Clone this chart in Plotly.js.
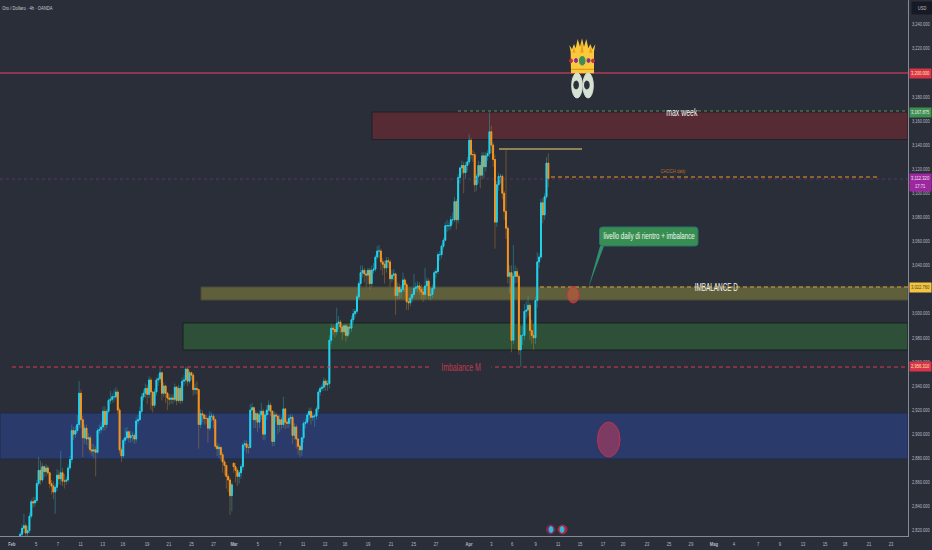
<!DOCTYPE html>
<html><head><meta charset="utf-8">
<script src="https://cdn.plot.ly/plotly-3.0.1.min.js"></script>
<style>html,body{margin:0;padding:0;background:#2a2e39}</style></head>
<body><div id="chart" style="width:932px;height:550px"></div>
<script>
const closes=[2817,2822,2824,2818,2820,2832,2844,2843,2845,2859,
2870,2862,2873,2869,2872,2868,2859,2857,2852,2856,
2866,2863,2868,2861,2861,2862,2872,2879,2903,2900,
2903,2908,2934,2912,2897,2905,2896,2897,2887,2886,
2887,2885,2903,2904,2906,2919,2908,2919,2928,2929,
2931,2931,2935,2920,2887,2882,2895,2897,2902,2897,
2899,2899,2896,2911,2912,2919,2931,2934,2938,2933,
2945,2935,2924,2935,2945,2946,2951,2934,2940,2934,
2930,2929,2930,2929,2939,2928,2938,2928,2944,2945,
2954,2944,2951,2949,2937,2938,2937,2908,2917,2916,
2913,2913,2905,2915,2915,2912,2890,2888,2889,2883,
2877,2874,2865,2862,2849,2858,2873,2870,2865,2868,
2873,2891,2892,2889,2889,2920,2922,2912,2917,2910,
2916,2919,2900,2916,2920,2924,2919,2894,2916,2915,
2908,2912,2908,2921,2910,2909,2913,2914,2899,2906,
2896,2890,2887,2897,2909,2910,2916,2919,2914,2915,
2915,2921,2935,2938,2939,2944,2941,2942,2978,2988,
2987,2985,2992,2993,2989,2985,2990,2982,2989,2988,
2995,3000,3002,3014,3025,3034,3036,3033,3032,3036,
3025,3036,3037,3047,3052,3052,3043,3041,3038,3044,
3043,3029,3032,3033,3015,3022,3018,3020,3028,3024,
3010,3009,3013,3016,3021,3022,3023,3020,3018,3016,
3023,3027,3015,3016,3021,3034,3035,3049,3049,3056,
3061,3073,3073,3073,3078,3078,3093,3078,3113,3121,
3123,3117,3123,3126,3144,3132,3132,3107,3114,3123,
3115,3131,3122,3131,3133,3151,3140,3128,3076,3107,
3114,3114,3100,3085,3071,3031,3034,2978,3031,3035,
3031,2970,2982,2982,3002,3003,3007,2986,2982,2980,
3011,3043,3047,3092,3082,3097,3125,3112];
const opens=[2812,2817,2822,2824,2818,2820,2832,2844,2843,2845,
2859,2870,2862,2873,2869,2872,2868,2859,2857,2852,
2856,2866,2863,2868,2861,2861,2862,2872,2879,2903,
2900,2903,2908,2934,2912,2897,2905,2896,2897,2887,
2886,2887,2885,2903,2904,2906,2919,2908,2919,2928,
2929,2931,2931,2935,2920,2887,2882,2895,2897,2902,
2897,2899,2899,2896,2911,2912,2919,2931,2934,2938,
2933,2945,2935,2924,2935,2945,2946,2951,2934,2940,
2934,2930,2929,2930,2929,2939,2928,2938,2928,2944,
2945,2954,2944,2951,2949,2937,2938,2937,2908,2917,
2916,2913,2913,2905,2915,2915,2912,2890,2888,2889,
2883,2877,2874,2865,2862,2849,2876,2873,2870,2865,
2868,2873,2891,2892,2889,2889,2920,2922,2912,2917,
2910,2916,2919,2900,2916,2920,2924,2919,2894,2916,
2915,2908,2912,2908,2921,2910,2909,2913,2914,2899,
2906,2896,2890,2887,2897,2909,2910,2916,2919,2914,
2915,2915,2921,2935,2938,2939,2944,2941,2942,2978,
2988,2987,2985,2992,2993,2989,2985,2990,2982,2989,
2988,2995,3000,3002,3014,3025,3034,3036,3033,3032,
3036,3025,3036,3037,3047,3052,3052,3043,3041,3038,
3044,3043,3029,3032,3033,3015,3022,3018,3020,3028,
3024,3010,3009,3013,3016,3021,3022,3023,3020,3018,
3016,3023,3027,3015,3016,3021,3034,3035,3049,3049,
3056,3061,3073,3073,3073,3078,3078,3093,3078,3113,
3121,3123,3117,3123,3126,3144,3132,3132,3107,3114,
3123,3115,3131,3122,3131,3133,3151,3140,3128,3076,
3107,3114,3114,3100,3085,3071,3031,3034,2978,3031,
3035,3031,2970,2982,2982,3002,3003,3007,2986,2982,
2980,3011,3043,3047,3092,3082,3097,3125];
const highs=[2819,2825,2834,2826,2824,2835,2846,2848,2848,2862,
2881,2878,2876,2874,2875,2874,2866,2862,2861,2859,
2871,2870,2886,2872,2867,2865,2875,2882,2908,2906,
2907,2916,2944,2937,2915,2908,2908,2901,2899,2892,
2892,2890,2905,2908,2910,2923,2923,2921,2930,2936,
2934,2937,2939,2937,2922,2889,2897,2905,2906,2903,
2903,2902,2901,2914,2916,2923,2934,2937,2942,2941,
2948,2947,2936,2938,2947,2950,2955,2952,2943,2941,
2935,2933,2933,2933,2942,2940,2941,2940,2947,2949,
2956,2955,2953,2952,2951,2942,2944,2938,2921,2920,
2917,2916,2914,2919,2918,2917,2913,2893,2892,2890,
2885,2879,2875,2867,2864,2860,2876,2876,2872,2870,
2875,2893,2895,2895,2892,2925,2926,2923,2920,2918,
2920,2926,2921,2919,2924,2928,2926,2920,2919,2918,
2917,2916,2914,2931,2922,2912,2916,2917,2916,2909,
2908,2897,2892,2898,2911,2913,2918,2922,2922,2918,
2917,2923,2937,2940,2942,2947,2946,2945,2982,2992,
2991,2990,3005,2998,2995,2991,2992,2992,2992,2992,
2998,3004,3004,3016,3027,3040,3040,3038,3036,3038,
3038,3040,3042,3049,3056,3057,3054,3046,3044,3047,
3047,3045,3036,3037,3034,3026,3025,3024,3034,3030,
3026,3013,3016,3018,3033,3026,3027,3026,3024,3022,
3038,3030,3029,3022,3024,3036,3038,3051,3052,3058,
3063,3076,3078,3076,3081,3084,3097,3095,3116,3122,
3127,3126,3126,3130,3149,3146,3136,3134,3116,3127,
3126,3134,3134,3134,3136,3167,3156,3142,3132,3110,
3117,3116,3116,3102,3136,3073,3040,3040,3057,3040,
3038,3033,2990,2990,3008,3010,3015,3009,2995,2992,
3014,3051,3050,3095,3096,3100,3130,3133];
const lows=[2812,2815,2818,2815,2815,2818,2830,2839,2840,2843,
2857,2858,2860,2864,2865,2866,2855,2850,2846,2834,
2853,2858,2858,2857,2855,2858,2860,2870,2876,2895,
2897,2901,2905,2905,2881,2892,2891,2888,2884,2882,
2880,2865,2884,2900,2901,2903,2903,2905,2917,2925,
2926,2927,2929,2917,2884,2877,2880,2892,2895,2893,
2893,2894,2892,2893,2908,2911,2917,2928,2930,2925,
2930,2920,2918,2922,2932,2940,2943,2928,2931,2926,
2920,2924,2925,2925,2927,2924,2926,2925,2926,2940,
2942,2940,2942,2945,2932,2933,2933,2888,2905,2910,
2908,2908,2893,2903,2910,2905,2888,2882,2880,2878,
2868,2866,2855,2852,2833,2836,2868,2860,2857,2859,
2863,2870,2886,2884,2884,2888,2912,2905,2905,2902,
2905,2912,2895,2895,2912,2916,2915,2890,2890,2910,
2900,2902,2904,2905,2904,2905,2905,2908,2892,2895,
2888,2883,2881,2882,2893,2905,2908,2912,2908,2911,
2906,2912,2918,2932,2936,2936,2936,2936,2938,2975,
2982,2980,2982,2987,2984,2978,2982,2977,2980,2983,
2985,2992,2997,3000,3012,3022,3030,3026,3022,3024,
3020,3022,3033,3035,3045,3046,3036,3032,3025,3034,
3038,3022,3026,3028,2999,3012,3012,3013,3018,3018,
3003,3003,3006,3010,3014,3018,3018,3016,3012,3010,
3012,3020,3012,3011,3013,3019,3030,3033,3044,3046,
3054,3060,3068,3069,3070,3074,3076,3070,3075,3108,
3115,3100,3112,3118,3124,3128,3126,3101,3102,3108,
3104,3112,3112,3118,3127,3130,3133,3122,3054,3072,
3102,3108,3095,3078,3062,3025,3017,2968,2975,3025,
3026,2966,2956,2974,2978,2996,2998,2978,2975,2970,
2975,3005,3038,3045,3075,3078,3095,3105];
const firstBar=11;
const tickBars=[6.5,19.6,31.5,43.8,55.8,66.8,79.9,91.8,104.1,116.1,127.2,140.2,152.2,164.7,176.6,187.5,200,212.5,224.8,237,254.9,267.1,278.3,291.1,303.3,315.2,327.7,338.6,351.6,363.6,375.5,388,398.9,412,423.9,436.4,448.4,459.2,472.3,484.2];
const tickLabels=['<b>Feb</b>','5','7','11','13','16','19','21','25','27','<b>Mar</b>','5','7','11','13','16','19','21','25','27','<b>Apr</b>','3','6','9','11','15','17','20','23','25','29','<b>Mag</b>','4','7','9','13','15','18','21','23'];
const priceTicks=[2820,2840,2860,2880,2900,2920,2940,2960,2980,3000,3040,3060,3080,3100,3120,3140,3160,3180,3220,3240];
const priceTickLabels=priceTicks.map(v=>v.toLocaleString('en-US',{minimumFractionDigits:3}));

const barX=closes.map((_,i)=>firstBar+i);
const bodyTop=closes.map((c,i)=>Math.max(c,opens[i]));
const bodyBot=closes.map((c,i)=>Math.min(c,opens[i]));

/* page pixel -> axis value, for the drawn annotations only */
const PXW=1.84, X=p=>p/PXW, Y=p=>3240-(p-24.5)/1.205;
const rect=(x0,x1,y0,y1,fill,line)=>({type:'rect',layer:'below',x0:X(x0),x1:X(x1),y0:Y(y0),y1:Y(y1),fillcolor:fill,line:{color:line||fill,width:1}});
const hline=(x0,x1,y,color,dash,w)=>({type:'line',x0:X(x0),x1:X(x1),y0:Y(y),y1:Y(y),line:{color:color,dash:dash||'solid',width:w||1}});
const oval=(x0,x1,y0,y1,fill,line,w)=>({type:'circle',x0:X(x0),x1:X(x1),y0:Y(y0),y1:Y(y1),fillcolor:fill,line:{color:line||fill,width:w===undefined?1:w}});
const poly=(pts,fill)=>({type:'path',path:'M'+pts.map(p=>X(p[0])+','+Y(p[1])).join(' L')+' Z',fillcolor:fill,line:{width:0}});
const z=(zx,zy)=>[530+zx/3,30+zy/3];
const rr=(x0,x1,y0,y1,r)=>'M'+X(x0+r)+','+Y(y0)+' L'+X(x1-r)+','+Y(y0)+' Q'+X(x1)+','+Y(y0)+' '+X(x1)+','+Y(y0+r)+' L'+X(x1)+','+Y(y1-r)+' Q'+X(x1)+','+Y(y1)+' '+X(x1-r)+','+Y(y1)+' L'+X(x0+r)+','+Y(y1)+' Q'+X(x0)+','+Y(y1)+' '+X(x0)+','+Y(y1-r)+' L'+X(x0)+','+Y(y0+r)+' Q'+X(x0)+','+Y(y0)+' '+X(x0+r)+','+Y(y0)+' Z';

const shapes=[
 rect(372,908,112,139.5,'#562b33','#1f2029'),
 rect(201,908,287,300,'#5f5f3c','#4a4a36'),
 rect(183,908,323,350,'#2f5038','#17201f'),
 rect(0,908,413,459,'#293a6b','#1f2a48'),
 hline(0,908,73,'#b03a55','solid',1.5),
 hline(458,908,111,'#5c8f58','3px,3px',1.2),
 hline(0,908,179,'rgba(130,70,150,.45)','dot',1),
 hline(551,878,177,'#f7951d','4px,3px',1),
 hline(499,582,149,'#f5d76e','solid',1.2),
 hline(540,908,287,'#d9a93a','4px,3px',1.2),
 hline(12,908,367,'#d83a4a','4px,3px',1),
 oval(567.5,579,286.5,303,'rgba(190,90,60,.65)','#d32f4a',1),
 oval(597.5,620,422,457,'rgba(170,60,95,.65)','#c2304f',1),
 poly([[600,246],[588.3,288],[604,246]],'#2f8f6e'),
 {type:'path',path:rr(599.5,698,227,246,3),fillcolor:'#388e50',line:{color:'#2b6f75',width:1}},
 /* crown */
 poly([z(123,130),z(122,65),z(118,45),z(126,58),z(132,42),z(137,55),z(143,27),z(150,50),z(156,25),z(162,50),z(169,27),z(175,55),z(181,42),z(187,58),z(196,43),z(192,65),z(192,130)],'#f8c93a'),
 poly([z(128,68),z(132,50),z(136,68)],'#f59a14'),
 poly([z(151,68),z(156,35),z(161,68)],'#f59a14'),
 poly([z(177,68),z(182,50),z(187,68)],'#f59a14'),
 hline(571,594,69.3,'#e08c14','solid',1),
 oval(569.5,572.5,59,62.5,'#c92b45'),oval(591.5,594.5,59,62.5,'#c92b45'),
 oval(574.5,577.5,58.5,62.5,'#8a2aa0'),oval(587,590,58.5,62.5,'#8a2aa0'),
 oval(579.5,585,56.5,65,'#3f8f55'),
 /* eyes */
 oval(571.7,582.3,73,98,'#d6e3d4'),oval(582.9,593.3,73,98,'#d6e3d4'),
 oval(573.8,578.4,81,89,'#2e3136'),oval(584.6,589.2,81,89,'#2e3136'),
 /* news markers */
 oval(546.5,555,525,534,'#7a2a55'),oval(549,553,526.5,532.5,'#35b6dc'),
 oval(558,567,525,534,'#a52a45'),oval(560,564,526.5,532.5,'#35b6dc')
];

const FONT='"Liberation Sans",Roboto,sans-serif';
const note=(px,py,text,color,size,extra)=>Object.assign({xref:'x',yref:'y',x:X(px),y:Y(py),text:text,showarrow:false,xanchor:'center',yanchor:'middle',font:{family:FONT,size:size,color:color},borderpad:0},extra||{});
const priceTag=(py,text,bg,color)=>({xref:'paper',yref:'y',x:1.0015,y:Y(py),xanchor:'left',yanchor:'middle',text:text,showarrow:false,bgcolor:bg,width:21,height:8.5,borderpad:0,align:'center',font:{family:FONT,size:6,color:color}});
const annotations=[
 {xref:'paper',yref:'paper',x:28/932,y:0.9855,xanchor:'center',yanchor:'middle',showarrow:false,text:'Oro / Dollaro · 4h · OANDA',font:{family:FONT,size:6,color:'#c9ccd3'}},
 note(682,112,'max week','#f2f2f2',11),
 note(716,286.5,'IMBALANCE D','#f2f2e6',11),
 note(460.5,367,'Imbalance M','#c23a4c',10.5,{bgcolor:'#2a2e39'}),
 note(673,171,'CHOCH daily','#b9702a',6),
 note(648.5,236,'livello daily di rientro + imbalance','#f2f7f2',9),
 priceTag(73.5,'3,200.000','#d8334a','#ffe9a8'),
 priceTag(112,'3,167.875','#3f8f52','#e8f3ea'),
 priceTag(178.8,'3,112.320','#9c27a0','#f3e3f5'),
 priceTag(186,'17:71','#9c27a0','#f3e3f5'),
 priceTag(287,'3,022.760','#f5c542','#4a4028'),
 priceTag(366.5,'2,956.310','#d8334a','#ffe9a8'),
 {xref:'paper',yref:'paper',x:1.0035,y:0.9855,xanchor:'left',yanchor:'middle',showarrow:false,text:'USD',bgcolor:'#171a24',width:21,height:12,borderpad:0,font:{family:FONT,size:6,color:'#b7bac3'}}
];

const data=[
 {type:'candlestick',x:barX,open:opens,high:highs,low:lows,close:closes,whiskerwidth:0,
  increasing:{line:{color:'rgba(38,198,218,.38)',width:1},fillcolor:'rgba(38,198,218,.2)'},
  decreasing:{line:{color:'rgba(220,140,40,.38)',width:1},fillcolor:'rgba(220,140,40,.2)'},hoverinfo:'skip',showlegend:false},
 {type:'candlestick',x:barX,open:opens,high:bodyTop,low:bodyBot,close:closes,whiskerwidth:0,
  increasing:{line:{color:'#22d3ee',width:1},fillcolor:'#22d3ee'},
  decreasing:{line:{color:'#f7951d',width:1},fillcolor:'#f7951d'},hoverinfo:'skip',showlegend:false}
];
const layout={
 width:932,height:550,margin:{l:0,r:24,t:0,b:14,pad:0},
 paper_bgcolor:'#2a2e39',plot_bgcolor:'#2a2e39',showlegend:false,
 xaxis:{range:[0,908/PXW],tickmode:'array',tickvals:tickBars,ticktext:tickLabels,tickangle:0,ticklen:2,tickcolor:'rgba(0,0,0,0)',showgrid:false,zeroline:false,rangeslider:{visible:false},showline:true,linecolor:'#878a94',linewidth:1,tickfont:{family:FONT,size:6,color:'#b7bac3'},automargin:false,fixedrange:true},
 yaxis:{side:'right',range:[Y(536),Y(0)],tickmode:'array',tickvals:priceTicks,ticktext:priceTickLabels,ticklen:2,tickcolor:'rgba(0,0,0,0)',showgrid:false,zeroline:false,showline:true,linecolor:'#878a94',linewidth:1,tickfont:{family:FONT,size:4.9,color:'#b7bac3'},automargin:false,fixedrange:true},
 shapes:shapes,annotations:annotations
};
const narrowing={'max week':0.63,'IMBALANCE D':0.58,'Imbalance M':0.66};
Plotly.newPlot('chart',data,layout,{displayModeBar:false,staticPlot:true}).then(gd=>{
 /* the reference's lettering is narrow: condense the texts horizontally */
 const squeeze=(el,f)=>{
  const t=el.querySelector('tspan')||el;
  const len=t.getComputedTextLength();
  if(len>0){t.setAttribute('textLength',(len*f).toFixed(2));t.setAttribute('lengthAdjust','spacingAndGlyphs');}
 };
 gd.querySelectorAll('.xtick text, .annotation text').forEach(el=>squeeze(el,narrowing[el.textContent]||0.69));
 gd.querySelectorAll('.ytick text').forEach(el=>squeeze(el,0.82));
});
</script></body></html>
